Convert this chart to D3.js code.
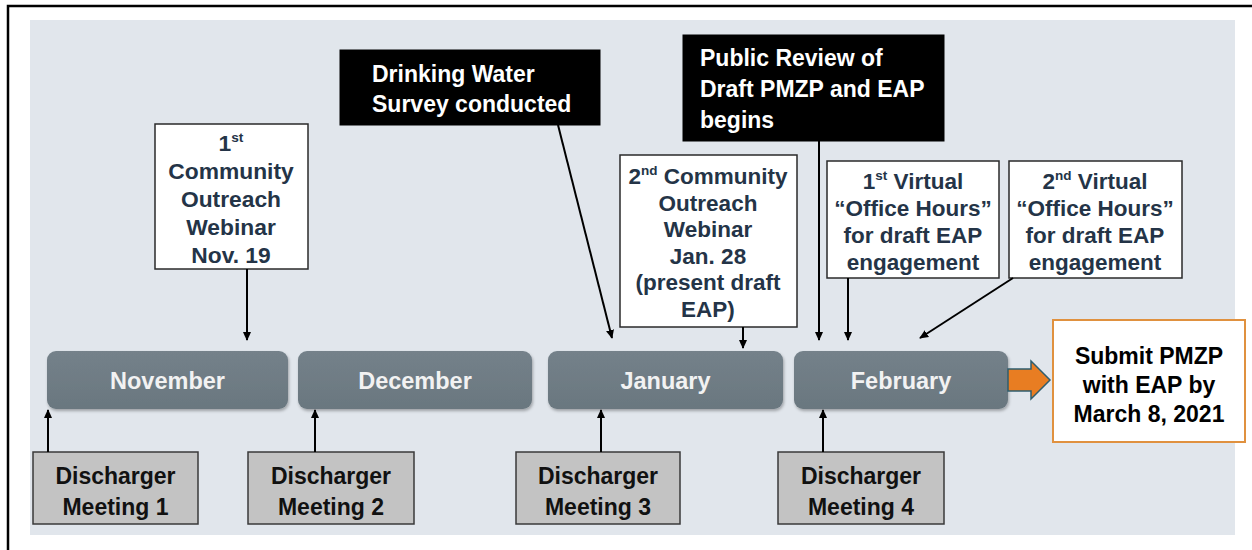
<!DOCTYPE html>
<html><head><meta charset="utf-8">
<script src="https://cdn.jsdelivr.net/npm/d3@7"></script>
<style>html,body{margin:0;padding:0;background:#fff;}svg{display:block;}</style>
</head><body>
<svg id="chart" width="1252" height="550"></svg>
<script>
// ---- data (text content) ----
const months = ["November", "December", "January", "February"];
const meetingLines = [
  ["Discharger", "Meeting 1"],
  ["Discharger", "Meeting 2"],
  ["Discharger", "Meeting 3"],
  ["Discharger", "Meeting 4"]
];
// "^" marks a superscript segment
const noteWebinar1 = ["1^st", "Community", "Outreach", "Webinar", "Nov. 19"];
const noteSurvey = ["Drinking Water", "Survey conducted"];
const noteReview = ["Public Review of", "Draft PMZP and EAP", "begins"];
const noteWebinar2 = ["2^nd Community", "Outreach", "Webinar", "Jan. 28", "(present draft", "EAP)"];
const noteOffice1 = ["1^st Virtual", "\u201COffice Hours\u201D", "for draft EAP", "engagement"];
const noteOffice2 = ["2^nd Virtual", "\u201COffice Hours\u201D", "for draft EAP", "engagement"];
const noteSubmit = ["Submit PMZP", "with EAP by", "March 8, 2021"];

// ---- layout ----
const monthBars = [[47, 288], [298, 532], [548, 783], [794, 1008]];
const barY = 351, barH = 58;
const meetingBoxes = [[33, 198], [248, 414], [516, 680], [778, 944]];
const meetingArrowX = [48, 315, 601, 823];
const meetY = 452, meetH = 72;

const svg = d3.select("#chart");
const FONT = "'Liberation Sans', Arial, sans-serif";

const defs = svg.append("defs");
defs.append("marker").attr("id", "ah").attr("viewBox", "0 0 10 10")
  .attr("refX", 9).attr("refY", 5).attr("markerWidth", 9).attr("markerHeight", 9)
  .attr("markerUnits", "userSpaceOnUse").attr("orient", "auto")
  .append("path").attr("d", "M0,0.5 L10,5 L0,9.5 Z").attr("fill", "#000");
const f = defs.append("filter").attr("id", "sh").attr("x", "-5%").attr("y", "-10%").attr("width", "115%").attr("height", "135%");
f.append("feDropShadow").attr("dx", 1).attr("dy", 2).attr("stdDeviation", 1.5).attr("flood-color", "#000").attr("flood-opacity", 0.3);
const g1 = defs.append("linearGradient").attr("id", "barg").attr("x1", 0).attr("x2", 0).attr("y1", 0).attr("y2", 1);
g1.append("stop").attr("offset", "0%").attr("stop-color", "#74818a");
g1.append("stop").attr("offset", "100%").attr("stop-color", "#6a777f");

// outer frame & panel
svg.append("rect").attr("x", 8).attr("y", 6).attr("width", 1260).attr("height", 560)
  .attr("fill", "#fff").attr("stroke", "#000").attr("stroke-width", 2.5);
svg.append("rect").attr("x", 30).attr("y", 20).attr("width", 1205).attr("height", 515).attr("fill", "#e1e6ec");

function lines(sel, arr, opts) {
  const t = sel.append("text").attr("font-family", FONT).attr("font-weight", "bold")
    .attr("font-size", opts.size).attr("fill", opts.color)
    .attr("text-anchor", opts.anchor || "middle");
  arr.forEach((ln, i) => {
    const y = opts.y0 + i * opts.lh;
    const tl = t.append("tspan").attr("x", opts.x).attr("y", y);
    const parts = ln.split("^");
    if (parts.length === 1) { tl.text(ln); return; }
    const m = parts[1].match(/^([a-z]+)(.*)$/);
    tl.text(parts[0]);
    t.append("tspan").attr("font-size", opts.size * 0.6).attr("dy", -opts.size * 0.38).text(m[1]);
    t.append("tspan").attr("dy", opts.size * 0.38).text(m[2]);
  });
  return t;
}

function box(x0, y0, x1, y1, fill, stroke, sw) {
  svg.append("rect").attr("x", x0).attr("y", y0).attr("width", x1 - x0).attr("height", y1 - y0)
    .attr("fill", fill).attr("stroke", stroke).attr("stroke-width", sw);
}
function arrow(x0, y0, x1, y1) {
  svg.append("line").attr("x1", x0).attr("y1", y0).attr("x2", x1).attr("y2", y1)
    .attr("stroke", "#000").attr("stroke-width", 2).attr("marker-end", "url(#ah)");
}

// month bars
svg.selectAll("rect.month").data(months).join("rect").attr("class", "month")
  .attr("x", (d, i) => monthBars[i][0]).attr("y", barY)
  .attr("width", (d, i) => monthBars[i][1] - monthBars[i][0]).attr("height", barH)
  .attr("rx", 9).attr("fill", "url(#barg)").attr("filter", "url(#sh)");
svg.selectAll("text.month").data(months).join("text").attr("class", "month")
  .attr("x", (d, i) => (monthBars[i][0] + monthBars[i][1]) / 2).attr("y", barY + barH / 2 + 9)
  .attr("text-anchor", "middle").attr("font-family", FONT).attr("font-weight", "bold")
  .attr("font-size", 23.5).attr("fill", "#f2f2f2").text(d => d);

// discharger meetings
meetingLines.forEach((ml, i) => {
  const [x0, x1] = meetingBoxes[i];
  box(x0, meetY, x1, meetY + meetH, "#c3c3c3", "#3a3a3a", 1.5);
  lines(svg, ml, { x: (x0 + x1) / 2, y0: meetY + 32, lh: 31, size: 23, color: "#111" });
  arrow(meetingArrowX[i], meetY, meetingArrowX[i], barY + barH + 1);
});

// top notes
box(155, 124, 308, 269, "#fff", "#2a2a2a", 1.5);
lines(svg, noteWebinar1, { x: 231, y0: 151, lh: 28, size: 22.8, color: "#243447" });
arrow(247, 269, 247, 340);

box(340, 50, 600, 125, "#000", "#000", 1);
lines(svg, noteSurvey, { x: 372, y0: 82, lh: 30, size: 23, color: "#fff", anchor: "start" });
arrow(558, 125, 612, 338);

box(683, 35, 944, 141, "#000", "#000", 1);
lines(svg, noteReview, { x: 700, y0: 66, lh: 31, size: 23, color: "#fff", anchor: "start" });
arrow(819, 141, 819, 340);

box(620, 155, 797, 327, "#fff", "#2a2a2a", 1.5);
lines(svg, noteWebinar2, { x: 708, y0: 184, lh: 26.5, size: 22.5, color: "#243447" });
arrow(743, 327, 743, 348);

box(827, 161, 999, 278, "#fff", "#2a2a2a", 1.5);
lines(svg, noteOffice1, { x: 913, y0: 189, lh: 27, size: 22.5, color: "#243447" });
arrow(848, 278, 848, 340);

box(1009, 161, 1182, 278, "#fff", "#2a2a2a", 1.5);
lines(svg, noteOffice2, { x: 1095, y0: 189, lh: 27, size: 22.5, color: "#243447" });
arrow(1013, 278, 920, 338);

// orange arrow
svg.append("path")
  .attr("d", "M1008,369 L1031,369 L1031,361 L1050,380 L1031,399 L1031,391 L1008,391 Z")
  .attr("fill", "#e87d22").attr("stroke", "#2f5d6e").attr("stroke-width", 1.5);

// submit box
box(1053, 320, 1245, 442, "#fff", "#e0913f", 2);
lines(svg, noteSubmit, { x: 1149, y0: 364, lh: 29, size: 23, color: "#000" });
</script>
</body></html>
